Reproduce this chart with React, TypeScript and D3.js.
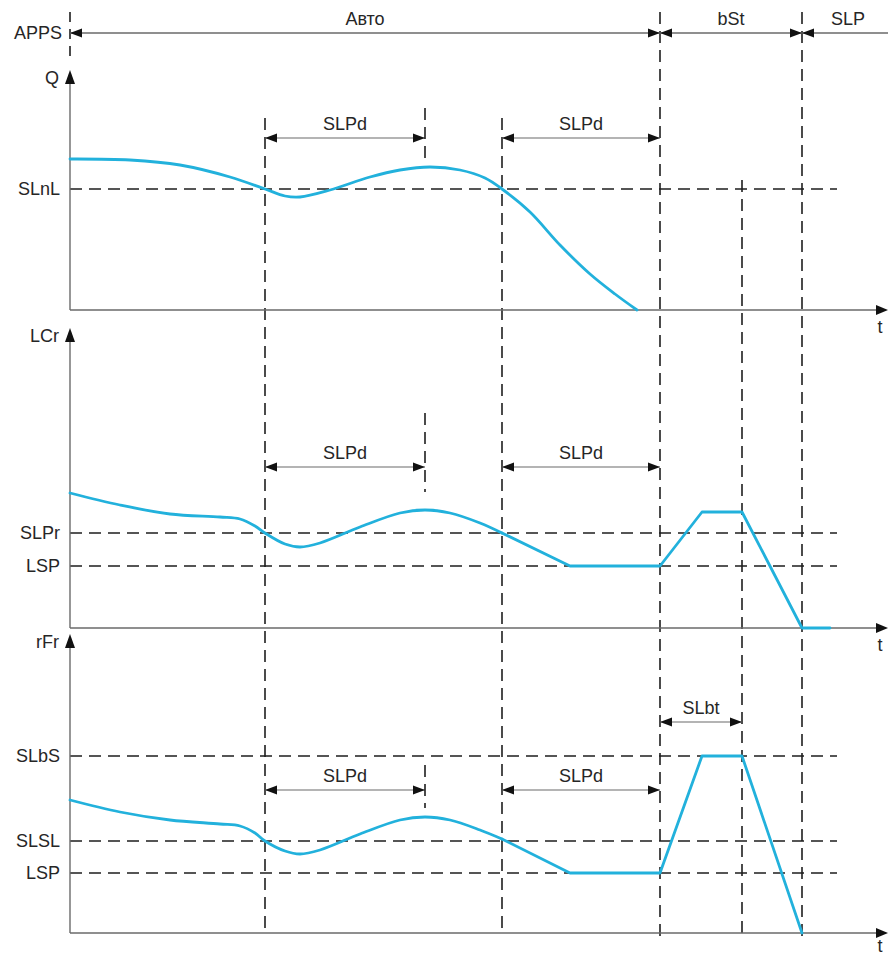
import React from "react";
import * as d3 from "d3";

type P = [number, number];

// ---- time axis (arbitrary time units) ----
const T_MAX = 409;
const phaseNames = ["Авто", "bSt", "SLP"];
const phaseStarts = [0, 295, 366];
const phaseEnds = [295, 366, 409];
const phaseClosedRight = [true, true, false];
const eventTimes = [97.5, 216, 295, 336, 366];
const slpdStarts = [97.5, 216];
const slpdEnds = [177.5, 295];
const refEnd = 383.5;

// ---- Q panel ----
const qRefNames = ["SLnL"];
const qRefValues = [60.5];
const qCurve: P[] = [
  [0, 75.5], [30, 75], [55, 72.5], [80, 66.5], [97.5, 60.5], [107.5, 57], [115, 56.5],
  [130, 60], [150, 66.5], [165, 70], [180, 71.5], [195, 70], [207.5, 66], [216, 60.5],
  [230, 49], [245, 32.5], [260, 18], [272.5, 8], [283.5, 0],
];

// ---- LCr panel ----
const lcrRefNames = ["SLPr", "LSP"];
const lcrRefValues = [47.5, 31];
const lcrSmooth: P[] = [
  [0, 67.5], [25, 61.5], [50, 57], [75, 55.5], [85, 54.5], [92.5, 51], [97.5, 47.5],
  [107.5, 42], [115, 40.5], [125, 42.5], [145, 50.5], [165, 57.5], [177.5, 59],
  [190, 57.5], [205, 52.5], [216, 47.5],
];
const lcrLinear: P[] = [[216, 47.5], [250, 31], [295, 31], [316, 58], [336, 58], [366, 0], [380, 0]];

// ---- rFr panel ----
const rfrRefNames = ["SLbS", "SLSL", "LSP"];
const rfrRefValues = [88.5, 46, 30];
const rfrSmooth: P[] = [
  [0, 66.5], [25, 60.5], [50, 56.5], [75, 54.5], [85, 53.5], [92.5, 50], [97.5, 46],
  [107.5, 41], [115, 39.5], [125, 41.5], [145, 49.5], [165, 56.5], [177.5, 58],
  [190, 56.5], [205, 51.5], [216, 47],
];
const rfrLinear: P[] = [[216, 47], [250, 30], [295, 30], [316, 88.5], [336, 88.5], [366, 0]];
const slbtStart = 295;
const slbtEnd = 336;

const CURVE = "#22b1dc";
const AXIS = "#6a6a6a";
const DASH = "#1e1e1e";
const TEXT = "#262626";
const FONT = "'Liberation Sans', Arial, sans-serif";
const FS = 18;

function head(x: number, y: number, dir: "l" | "r" | "u", len = 12, hw = 4.5) {
  if (dir === "l") return `M${x},${y}L${x + len},${y - hw}L${x + len},${y + hw}Z`;
  if (dir === "r") return `M${x},${y}L${x - len},${y - hw}L${x - len},${y + hw}Z`;
  return `M${x},${y}L${x - hw - 0.5},${y + len}L${x + hw + 0.5},${y + len}Z`;
}

export default function App() {
  const x = d3.scaleLinear().domain([0, T_MAX]).range([70, 888]);
  const X0 = x(0);

  const panels = [
    {
      label: "Q", bottom: 310, top: 80, tip: 70, tY: 333,
      refNames: qRefNames, refValues: qRefValues,
      smooth: qCurve, linear: null as P[] | null,
      slpdV: 86, shortTop: 101, shortBottom: 75,
    },
    {
      label: "LCr", bottom: 628, top: 330, tip: 328, tY: 651,
      refNames: lcrRefNames, refValues: lcrRefValues,
      smooth: lcrSmooth, linear: lcrLinear,
      slpdV: 80.5, shortTop: 107.5, shortBottom: 68,
    },
    {
      label: "rFr", bottom: 933, top: 641, tip: 634, tY: 952,
      refNames: rfrRefNames, refValues: rfrRefValues,
      smooth: rfrSmooth, linear: rfrLinear,
      slpdV: 71.5, shortTop: 84, shortBottom: 62.5,
    },
  ];

  const eventExtents: [number, number][] = [[118, 935], [118, 935], [12, 937], [180, 937], [12, 937]];
  const dash = "12 7";

  return (
    <svg width={888} height={956} style={{ position: "absolute", left: 0, top: 0, background: "#fff" }}
      fontFamily={FONT} fontSize={FS} fill={TEXT}>
      <rect width={888} height={956} fill="#fff" />

      {/* event verticals */}
      {eventTimes.map((t, i) => (
        <line key={"ev" + i} x1={x(t)} x2={x(t)} y1={eventExtents[i][0]} y2={eventExtents[i][1]}
          stroke={DASH} strokeWidth={1.6} strokeDasharray={dash} />
      ))}
      <line x1={X0} x2={X0} y1={12} y2={62} stroke={DASH} strokeWidth={1.6} strokeDasharray="10 7" />

      {/* top APPS row */}
      <text x={62} y={33} textAnchor="end" dominantBaseline="central">APPS</text>
      {phaseNames.map((n, i) => {
        const a = x(phaseStarts[i]);
        const b = x(phaseEnds[i]);
        return (
          <g key={"ph" + i}>
            <line x1={a} x2={b} y1={33} y2={33} stroke={AXIS} strokeWidth={1.3} />
            <path d={head(a, 33, "l")} fill="#111" />
            {phaseClosedRight[i] && <path d={head(b, 33, "r")} fill="#111" />}
            <text x={i === 2 ? (a + b) / 2 + 3 : (a + b) / 2} y={25} textAnchor="middle">{n}</text>
          </g>
        );
      })}

      {panels.map((p, pi) => {
        const y = d3.scaleLinear().domain([0, (p.bottom - p.top) / 2]).range([p.bottom, p.top]);
        const smoothLine = d3.line<P>().x((d) => x(d[0])).y((d) => y(d[1])).curve(d3.curveCatmullRom.alpha(0.5));
        const linLine = d3.line<P>().x((d) => x(d[0])).y((d) => y(d[1]));
        const sy = y(p.slpdV);
        return (
          <g key={"p" + pi}>
            {/* reference levels */}
            {p.refValues.map((v, i) => (
              <g key={"r" + i}>
                <line x1={X0} x2={x(refEnd)} y1={y(v)} y2={y(v)} stroke={DASH} strokeWidth={1.6} strokeDasharray={dash} />
                <text x={60} y={y(v)} textAnchor="end" dominantBaseline="central">{p.refNames[i]}</text>
              </g>
            ))}
            {/* axes */}
            <line x1={X0} x2={X0} y1={p.tip + 10} y2={p.bottom} stroke={AXIS} strokeWidth={1.4} />
            <path d={head(X0, p.tip, "u", 14, 4.5)} fill="#111" />
            <text x={59} y={p.tip + 8} textAnchor="end" dominantBaseline="central">{p.label}</text>
            <line x1={X0} x2={878} y1={p.bottom} y2={p.bottom} stroke={AXIS} strokeWidth={1.4} />
            <path d={head(888, p.bottom, "r", 12, 5)} fill="#111" />
            <text x={880} y={p.tY} textAnchor="middle">t</text>

            {/* SLPd dimensions */}
            {slpdStarts.map((s, i) => (
              <g key={"d" + i}>
                <line x1={x(s)} x2={x(slpdEnds[i])} y1={sy} y2={sy} stroke={AXIS} strokeWidth={1.2} />
                <path d={head(x(s), sy, "l")} fill="#111" />
                <path d={head(x(slpdEnds[i]), sy, "r")} fill="#111" />
                <text x={(x(s) + x(slpdEnds[i])) / 2} y={sy - 8} textAnchor="middle">SLPd</text>
              </g>
            ))}
            <line x1={x(slpdEnds[0])} x2={x(slpdEnds[0])} y1={y(p.shortTop)} y2={y(p.shortBottom)}
              stroke={DASH} strokeWidth={1.6} strokeDasharray={dash} />

            {pi === 2 && (
              <g>
                <line x1={x(slbtStart)} x2={x(slbtEnd)} y1={y(105.5)} y2={y(105.5)} stroke={AXIS} strokeWidth={1.2} />
                <path d={head(x(slbtStart), y(105.5), "l")} fill="#111" />
                <path d={head(x(slbtEnd), y(105.5), "r")} fill="#111" />
                <text x={(x(slbtStart) + x(slbtEnd)) / 2} y={y(105.5) - 8} textAnchor="middle">SLbt</text>
              </g>
            )}

            {/* curves */}
            <path d={smoothLine(p.smooth) || ""} fill="none" stroke={CURVE} strokeWidth={2.8} strokeLinecap="round" />
            {p.linear && (
              <path d={linLine(p.linear) || ""} fill="none" stroke={CURVE} strokeWidth={2.8} strokeLinejoin="round" strokeLinecap="round" />
            )}
          </g>
        );
      })}
    </svg>
  );
}
